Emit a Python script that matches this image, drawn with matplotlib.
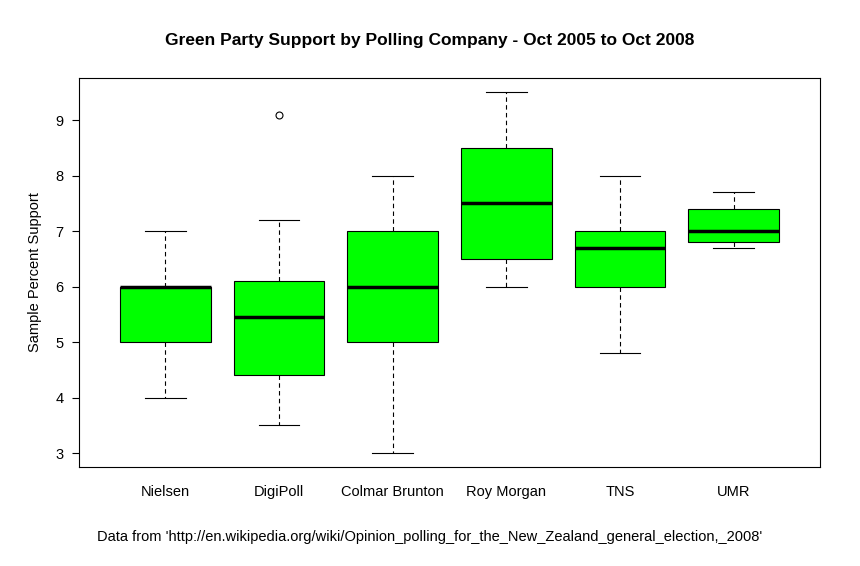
import matplotlib.pyplot as plt

companies = ['Nielsen', 'DigiPoll', 'Colmar Brunton', 'Roy Morgan', 'TNS', 'UMR']
whis_lo = [4.0, 3.5, 3.0, 6.0, 4.8, 6.7]
q1 = [5.0, 4.4, 5.0, 6.5, 6.0, 6.8]
medians = [6.0, 5.45, 6.0, 7.5, 6.7, 7.0]
q3 = [6.0, 6.1, 7.0, 8.5, 7.0, 7.4]
whis_hi = [7.0, 7.2, 8.0, 9.5, 8.0, 7.7]
outliers = [[], [9.1], [], [], [], []]

plt.rcParams['font.family'] = ['Liberation Sans', 'DejaVu Sans']

stats = []
for i, name in enumerate(companies):
    stats.append(dict(label=name, whislo=whis_lo[i], q1=q1[i], med=medians[i],
                      q3=q3[i], whishi=whis_hi[i], fliers=outliers[i]))

fig = plt.figure(figsize=(8.6, 5.66), dpi=100)
ax = fig.add_axes([79 / 860, 99 / 566, 741 / 860, 389 / 566])
ax.bxp(stats, positions=range(1, 7), widths=0.8, capwidths=0.36, patch_artist=True,
       boxprops=dict(facecolor='#00ff00', edgecolor='black', linewidth=0.8),
       medianprops=dict(color='black', linewidth=2.5),
       whiskerprops=dict(color='black', linestyle=(0, (4, 3)), linewidth=0.8),
       capprops=dict(color='black', linewidth=0.8),
       flierprops=dict(marker='o', markerfacecolor='none', markeredgecolor='black',
                       markersize=5, markeredgewidth=0.8))
ax.set_xlim(0.24, 6.76)
ax.set_ylim(2.75, 9.76)
ax.set_yticks(range(3, 10))
ax.tick_params(axis='both', labelsize=10.5, length=5, pad=6)
ax.tick_params(axis='x', length=0, pad=13)
for s in ax.spines.values():
    s.set_linewidth(0.8)
ax.set_ylabel('Sample Percent Support', fontsize=10.5, labelpad=10)
fig.text(0.5, 1 - 40 / 566, 'Green Party Support by Polling Company - Oct 2005 to Oct 2008',
         ha='center', va='center', fontsize=12.5, fontweight='bold')
fig.text(0.5, 1 - 537 / 566,
         "Data from 'http://en.wikipedia.org/wiki/Opinion_polling_for_the_New_Zealand_general_election,_2008'",
         ha='center', va='center', fontsize=10.5)
fig.savefig('out.png', dpi=100)
